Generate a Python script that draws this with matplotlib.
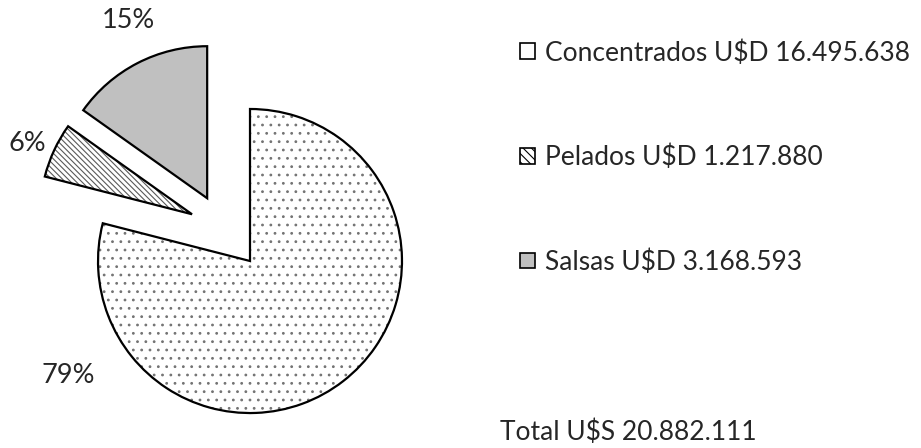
import numpy as np
import matplotlib.pyplot as plt
from matplotlib.patches import Patch

categories = ["Concentrados", "Pelados", "Salsas"]
values = [16495638, 1217880, 3168593]
value_labels = ["16.495.638", "1.217.880", "3.168.593"]
total_label = "Total U$S 20.882.111"

hatches = ["..", "\\\\\\\\\\\\", ""]
colors = ["white", "white", "#c0c0c0"]
explode = [0, 0.49, 0.5]
# Excel pushes the slices out a little off their mid-angle
explode_turn = [0, -14, 7]

plt.rcParams["font.family"] = ["Lato", "DejaVu Sans"]
plt.rcParams["hatch.linewidth"] = 0.8

fig = plt.figure(figsize=(9.21, 4.48), dpi=100)
ax = fig.add_axes([0, 0, 500 / 921, 1])

wedges, _ = ax.pie(values, startangle=90, counterclock=False, explode=explode,
                   colors=colors, wedgeprops=dict(edgecolor="black", linewidth=1.6))
for w, h, d, turn in zip(wedges, hatches, explode, explode_turn):
    w.set_hatch(h)
    mid = np.deg2rad((w.theta1 + w.theta2) / 2 + turn)
    w.set_center((d * np.cos(mid), d * np.sin(mid)))

wedges[0]._hatch_color = (0.45, 0.45, 0.45, 1)
wedges[1]._hatch_color = (0.35, 0.35, 0.35, 1)

ax.set_xlim(-1.645, 1.645)
ax.set_ylim(-1.230, 1.717)
ax.set_aspect("auto")

total = sum(values)
pct = [f"{round(v / total * 100)}%" for v in values]
label_pos = [(-1.197, -0.75), (-1.467, 0.776), (-0.80, 1.585)]
for p, (x, y) in zip(pct, label_pos):
    ax.text(x, y, p, ha="center", va="center", fontsize=19.5, color="#262626")

handles = []
for c, h in zip(colors, ["", "\\\\\\\\", ""]):
    handles.append(Patch(facecolor=c, edgecolor="black", hatch=h, linewidth=1.2))
labels = [f"{c} U$D {v}" for c, v in zip(categories, value_labels)]
leg = fig.legend(handles, labels, loc="upper left", bbox_to_anchor=(520 / 921, 1 - 40 / 448),
                 frameon=False, fontsize=19, labelspacing=3.0, handlelength=0.55,
                 handleheight=0.55, handletextpad=0.4, borderaxespad=0, borderpad=0)
for t in leg.get_texts():
    t.set_color("#262626")

fig.text(500 / 921, 1 - 432 / 448, total_label, ha="left", va="center", fontsize=19,
         color="#262626")

fig.savefig("out.png", dpi=100)
